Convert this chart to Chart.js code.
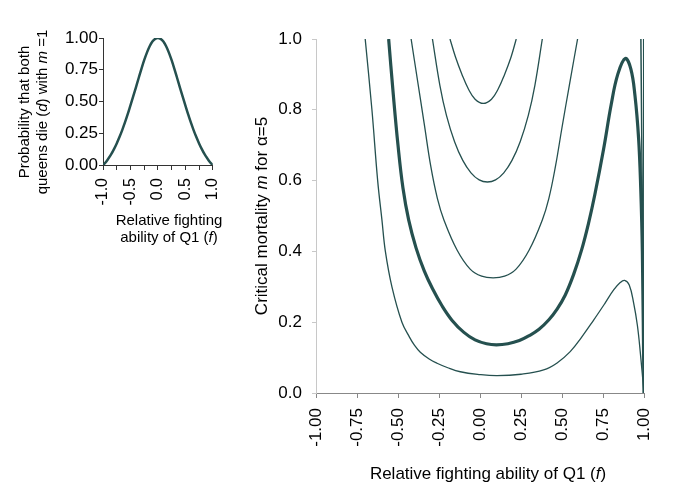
<!DOCTYPE html>
<html>
<head>
<meta charset="utf-8">
<script src="https://cdn.jsdelivr.net/npm/chart.js@4.4.1/dist/chart.umd.min.js"></script>
<style>
  html, body { margin: 0; padding: 0; background: #fff; }
  #wrap { position: relative; width: 685px; height: 504px; }
  #small { position: absolute; left: 0; top: 0; width: 240px; height: 260px; }
  #big { position: absolute; left: 240px; top: 0; width: 445px; height: 504px; }
</style>
</head>
<body>
<div id="wrap">
  <canvas id="small" width="240" height="260"></canvas>
  <canvas id="big" width="445" height="504"></canvas>
</div>
<script>
const FONT = "'Liberation Sans', Arial, sans-serif";
const LINE = "#25504f";

// left panel: probability both queens die (m = 1)
const probF = [-1, -0.95, -0.9, -0.85, -0.8, -0.75, -0.7, -0.65, -0.6, -0.55, -0.5, -0.45, -0.4, -0.35, -0.3, -0.25, -0.2, -0.15, -0.1, -0.05,
  0, 0.05, 0.1, 0.15, 0.2, 0.25, 0.3, 0.35, 0.4, 0.45, 0.5, 0.55, 0.6, 0.65, 0.7, 0.75, 0.8, 0.85, 0.9, 0.95, 1];
const probD = [0, 0.022, 0.052, 0.085, 0.125, 0.17, 0.22, 0.275, 0.335, 0.40, 0.47, 0.54, 0.612, 0.685, 0.757, 0.825, 0.885, 0.935, 0.972, 0.993,
  1.0, 0.993, 0.972, 0.935, 0.885, 0.825, 0.757, 0.685, 0.612, 0.54, 0.47, 0.40, 0.335, 0.275, 0.22, 0.17, 0.125, 0.085, 0.052, 0.022, 0];

// right panel: critical mortality curves (f, m)
const c1F = [-0.183, -0.15, -0.11, -0.07, -0.03, 0.02, 0.07, 0.11, 0.15, 0.19, 0.221];
const c1M = [1.0, 0.95, 0.9, 0.858, 0.83, 0.818, 0.83, 0.858, 0.9, 0.95, 1.0];

const c2F = [-0.29, -0.245, -0.205, -0.155, -0.105, -0.055, -0.005, 0.045, 0.095, 0.145, 0.195, 0.245, 0.295, 0.335, 0.38];
const c2M = [1.0, 0.87, 0.785, 0.71, 0.657, 0.622, 0.602, 0.596, 0.602, 0.622, 0.657, 0.71, 0.785, 0.87, 1.0];

const c3F = [-0.42, -0.38, -0.34, -0.30, -0.26, -0.22, -0.14, -0.06, 0.01, 0.08, 0.15, 0.22, 0.30, 0.38, 0.42, 0.46, 0.50, 0.545, 0.595];
const c3M = [1.0, 0.88, 0.76, 0.64, 0.55, 0.489, 0.404, 0.35, 0.33, 0.325, 0.33, 0.35, 0.404, 0.489, 0.55, 0.64, 0.75, 0.87, 1.0];

const thickF = [-0.557, -0.53, -0.50, -0.47, -0.435, -0.39, -0.34, -0.29, -0.23, -0.17, -0.10, -0.03, 0.04, 0.10, 0.17, 0.24, 0.30, 0.36, 0.42, 0.47,
  0.52, 0.571, 0.62, 0.662, 0.70, 0.754, 0.80, 0.84, 0.886, 0.92, 0.945, 0.967, 0.98, 0.99, 1.0];
const thickM = [1.0, 0.85, 0.70, 0.58, 0.489, 0.41, 0.345, 0.295, 0.245, 0.205, 0.172, 0.150, 0.139, 0.136, 0.139, 0.148, 0.162, 0.18, 0.207, 0.237,
  0.277, 0.335, 0.405, 0.48, 0.56, 0.69, 0.815, 0.9, 0.945, 0.915, 0.84, 0.72, 0.58, 0.40, 0];

const outerF = [-0.70, -0.659, -0.624, -0.598, -0.577, -0.537, -0.476, -0.43, -0.40, -0.364, -0.31, -0.262, -0.20, -0.12, 0.0, 0.104, 0.25, 0.388, 0.47, 0.55,
  0.62, 0.693, 0.76, 0.815, 0.855, 0.882, 0.91, 0.937, 0.96, 0.978, 1.0];
const outerM = [1.0, 0.8, 0.6, 0.489, 0.4, 0.30, 0.2, 0.158, 0.135, 0.115, 0.096, 0.084, 0.072, 0.060, 0.052, 0.049, 0.053, 0.065, 0.085, 0.117,
  0.158, 0.206, 0.252, 0.291, 0.312, 0.318, 0.305, 0.254, 0.19, 0.112, 0];

// near-vertical branches at f = 1
const edgeAF = [0.981, 1.0];
const edgeAM = [1.0, 0];
const edgeBF = [0.998, 1.0];
const edgeBM = [1.0, 0];

function pts(xs, ys) {
  return xs.map((x, i) => ({ x: x, y: ys[i] }));
}

function curve(xs, ys, w, mono) {
  let ds = {
    data: pts(xs, ys),
    borderColor: LINE,
    borderWidth: w,
    pointRadius: 0,
    fill: false,
    tension: 0.4
  };
  if (mono) ds.cubicInterpolationMode = "monotone";
  return ds;
}

// draw a line of text with some italic parts
function richText(ctx, parts, x, y, size, rot) {
  ctx.save();
  ctx.translate(x, y);
  ctx.rotate(rot);
  ctx.textBaseline = "alphabetic";
  ctx.textAlign = "left";
  ctx.fillStyle = "#000";
  let total = 0;
  parts.forEach(p => {
    ctx.font = (p[1] ? "italic " : "") + size + "px " + FONT;
    total += ctx.measureText(p[0]).width;
  });
  let cx = -total / 2;
  parts.forEach(p => {
    ctx.font = (p[1] ? "italic " : "") + size + "px " + FONT;
    ctx.fillText(p[0], cx, 0);
    cx += ctx.measureText(p[0]).width;
  });
  ctx.restore();
}

const smallTitles = {
  id: "smallTitles",
  afterDraw(chart) {
    const ctx = chart.ctx;
    richText(ctx, [["Probability that both", false]], 29, 112, 15, -Math.PI / 2);
    richText(ctx, [["queens die (", false], ["d", true], [") with ", false], ["m", true], [" =1", false]], 47, 112, 15, -Math.PI / 2);
    richText(ctx, [["Relative fighting", false]], 169, 225, 15, 0);
    richText(ctx, [["ability of Q1 (", false], ["f", true], [")", false]], 169, 242, 15, 0);
  }
};

const bigTitles = {
  id: "bigTitles",
  afterDraw(chart) {
    const ctx = chart.ctx;
    richText(ctx, [["Critical mortality ", false], ["m", true], [" for \u03b1=5", false]], 27, 216, 17, -Math.PI / 2);
    richText(ctx, [["Relative fighting ability of Q1 (", false], ["f", true], [")", false]], 248, 479, 17, 0);
  }
};

new Chart(document.getElementById("small"), {
  type: "line",
  data: { datasets: [curve(probF, probD, 2.5, true)] },
  options: {
    responsive: false,
    animation: false,
    layout: { padding: { top: 38, right: 9, left: 0, bottom: 0 } },
    plugins: { legend: { display: false }, tooltip: { enabled: false } },
    scales: {
      x: {
        type: "linear", min: -1, max: 1,
        ticks: {
          stepSize: 0.25, autoSkip: false, maxRotation: 90, minRotation: 90, padding: 8,
          color: "#000", font: { family: FONT, size: 16 },
          callback: v => Math.abs(v * 2 - Math.round(v * 2)) < 1e-9 ? v.toFixed(1) : ""
        },
        grid: { drawOnChartArea: false, drawTicks: true, tickLength: 5, color: "#333" },
        border: { color: "#333", width: 1 },
        afterFit: s => { s.height = 95; }
      },
      y: {
        min: 0, max: 1,
        ticks: {
          stepSize: 0.25, padding: 1, color: "#000", font: { family: FONT, size: 17 },
          callback: v => v.toFixed(2)
        },
        grid: { drawOnChartArea: false, drawTicks: true, tickLength: 4, color: "#333" },
        border: { color: "#333", width: 1 },
        afterFit: s => { s.width = 103; }
      }
    }
  },
  plugins: [smallTitles]
});

new Chart(document.getElementById("big"), {
  type: "line",
  data: {
    datasets: [
      curve(c1F, c1M, 1.3),
      curve(c2F, c2M, 1.3),
      curve(c3F, c3M, 1.3),
      curve(thickF, thickM, 3.2),
      curve(outerF, outerM, 1.3),
      curve(edgeAF, edgeAM, 1.5),
      curve(edgeBF, edgeBM, 1.5)
    ]
  },
  options: {
    responsive: false,
    animation: false,
    layout: { padding: { top: 39, right: 41, left: 0, bottom: 0 } },
    plugins: { legend: { display: false }, tooltip: { enabled: false } },
    scales: {
      x: {
        type: "linear", min: -1, max: 1,
        ticks: {
          stepSize: 0.25, autoSkip: false, maxRotation: 90, minRotation: 90, padding: 10,
          color: "#000", font: { family: FONT, size: 17 },
          callback: v => v.toFixed(2)
        },
        grid: { drawOnChartArea: false, drawTicks: true, tickLength: 5, color: "#888" },
        border: { color: "#888", width: 1 },
        afterFit: s => { s.height = 111; }
      },
      y: {
        min: 0, max: 1,
        ticks: {
          stepSize: 0.2, padding: 10, color: "#000", font: { family: FONT, size: 17 },
          callback: v => v.toFixed(1)
        },
        grid: { drawOnChartArea: false, drawTicks: true, tickLength: 4, color: "#c8c8c8" },
        border: { color: "#c8c8c8", width: 1 },
        afterFit: s => { s.width = 76; }
      }
    }
  },
  plugins: [bigTitles]
});
</script>
</body>
</html>
